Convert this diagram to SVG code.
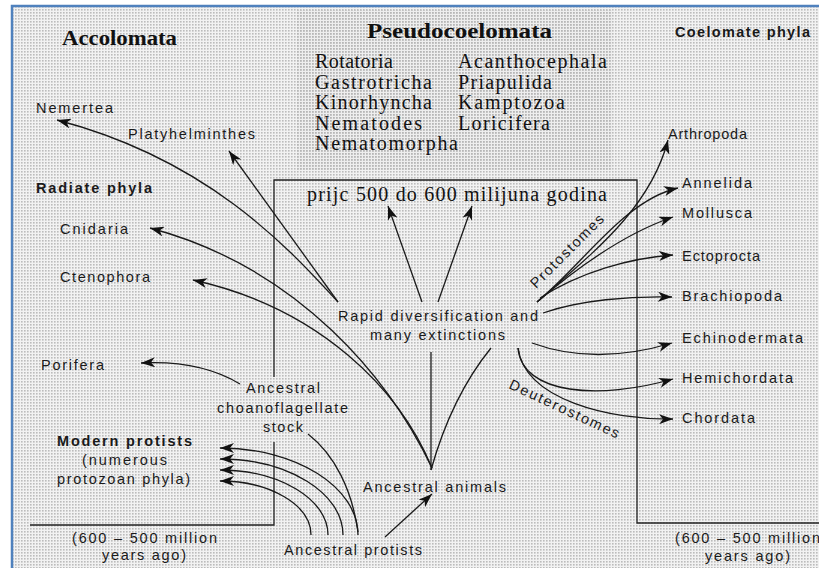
<svg xmlns="http://www.w3.org/2000/svg" width="819" height="568" viewBox="0 0 819 568">
<style>
.sans{font-family:"Liberation Sans",Arial,sans-serif;font-size:14.5px;fill:#1a1a1a}
.b{font-weight:bold}
.serif{font-family:"Liberation Serif","Times New Roman",serif;font-size:20px;fill:#111}
.hd{font-family:"Liberation Serif","Times New Roman",serif;font-size:20px;font-weight:bold;fill:#111}
.ln{fill:none;stroke:#1a1a1a;stroke-width:1.3}
.ar{fill:none;stroke:#1a1a1a;stroke-width:1.3;marker-end:url(#ah)}
.frame{fill:none;stroke:#222;stroke-width:1.3}
</style>
<defs>
<pattern id="ht" width="3" height="3" patternUnits="userSpaceOnUse">
<rect width="3" height="3" fill="#f2f2f2"/>
<rect width="1.6" height="1.6" fill="#bcbcbc"/>
</pattern>
<pattern id="ht2" width="3" height="3" patternUnits="userSpaceOnUse">
<rect width="3" height="3" fill="#eeeeee"/>
<rect width="1.8" height="1.8" fill="#b6b6b6"/>
</pattern>
<marker id="ah" viewBox="0 0 14 10" refX="14" refY="5" markerWidth="14" markerHeight="10" markerUnits="userSpaceOnUse" orient="auto">
<path d="M0,0 L14,5 L0,10 L4,5 Z" fill="#111"/>
</marker>
</defs>
<rect width="819" height="568" fill="#ffffff"/>
<rect x="12" y="6" width="820" height="580" fill="url(#ht)" stroke="#4f81bd" stroke-width="2.5"/>
<rect x="297" y="10" width="315" height="160" fill="url(#ht2)"/>

<g id="frames">
<path class="frame" d="M274,377 L274,180 L637,180 L637,523 L819,523"/>
<path class="frame" d="M274,442 L274,525 L30,525"/>
</g>

<g id="connectors">
<path class="ar" d="M338,302 C290,250 210,160 57,120"/>
<path class="ar" d="M338,302 L229,151"/>
<path class="ar" d="M422,302 L388,206"/>
<path class="ar" d="M438,302 L472,206"/>
<path class="ar" d="M432,468 C390,380 300,268 150,228"/>
<path class="ar" d="M432,468 C400,390 320,308 193,280"/>
<path class="ar" d="M240,384 Q200,360 141,363"/>
<path class="ln" d="M431,470 L431,352"/>
<path class="ln" d="M431,470 C445,420 465,380 491,348"/>
<path class="ar" d="M385,537 L432,494"/>
<path class="ar" d="M358,535 C358,487 296,448 220,448"/>
<path class="ar" d="M343,535 C343,493 288,459 220,459"/>
<path class="ar" d="M328,535 C328,499 279,470 220,470"/>
<path class="ar" d="M311,535 C311,505 270,481 220,481"/>
<path class="ln" d="M358,532 C352,490 335,455 308,434"/>
<path class="ar" d="M537,302 C590,255 650,210 668,140"/>
<path class="ar" d="M537,302 C585,262 625,200 678,188"/>
<path class="ar" d="M537,302 C572,272 620,235 673,217"/>
<path class="ar" d="M540,298 C580,272 630,258 673,255"/>
<path class="ar" d="M543,313 C580,300 630,296 672,297"/>
<path class="ar" d="M532,343 Q595,366 672,343"/>
<path class="ar" d="M518,348 C522,395 600,400 673,379"/>
<path class="ar" d="M518,348 C525,400 610,420 673,419"/>
</g>

<g id="accolomata">
<text class="hd" x="62" y="45" textLength="115" lengthAdjust="spacingAndGlyphs">Accolomata</text>
</g>
<g id="pseudocoelomata">
<text class="hd" x="367" y="38" textLength="185" lengthAdjust="spacingAndGlyphs">Pseudocoelomata</text>
<text class="serif" x="315" y="68" textLength="78">Rotatoria</text>
<text class="serif" x="315" y="88.5" textLength="117">Gastrotricha</text>
<text class="serif" x="315" y="109" textLength="117">Kinorhyncha</text>
<text class="serif" x="315" y="129.5" textLength="107">Nematodes</text>
<text class="serif" x="315" y="150" textLength="143">Nematomorpha</text>
<text class="serif" x="458" y="68" textLength="149">Acanthocephala</text>
<text class="serif" x="458" y="88.5" textLength="94">Priapulida</text>
<text class="serif" x="458" y="109" textLength="107">Kamptozoa</text>
<text class="serif" x="458" y="129.5" textLength="92">Loricifera</text>
</g>
<g id="coelomate">
<text class="sans b" x="675" y="37" textLength="135">Coelomate phyla</text>
</g>
<g id="period">
<text class="serif" x="307" y="201" font-size="21" textLength="300">prijc 500 do 600 milijuna godina</text>
</g>
<g id="nemertea"><text class="sans" x="36" y="113" textLength="77">Nemertea</text></g>
<g id="platyhelminthes"><text class="sans" x="128" y="139" textLength="127">Platyhelminthes</text></g>
<g id="radiate"><text class="sans b" x="36" y="193" textLength="116">Radiate phyla</text></g>
<g id="cnidaria"><text class="sans" x="60" y="234" textLength="68">Cnidaria</text></g>
<g id="ctenophora"><text class="sans" x="60" y="282" textLength="90">Ctenophora</text></g>
<g id="porifera"><text class="sans" x="41" y="370" textLength="63">Porifera</text></g>
<g id="choano">
<text class="sans" x="246" y="393" textLength="74">Ancestral</text>
<text class="sans" x="217" y="413" textLength="131">choanoflagellate</text>
<text class="sans" x="263" y="432" textLength="40">stock</text>
</g>
<g id="modern">
<text class="sans b" x="57" y="446" textLength="135">Modern protists</text>
<text class="sans" x="82" y="465" textLength="85">(numerous</text>
<text class="sans" x="57" y="484" textLength="133">protozoan phyla)</text>
</g>
<g id="time-left">
<text class="sans" x="72" y="543" textLength="145">(600 – 500 million</text>
<text class="sans" x="102" y="560" textLength="84">years ago)</text>
</g>
<g id="protists"><text class="sans" x="284" y="555" textLength="138">Ancestral protists</text></g>
<g id="animals"><text class="sans" x="363" y="492" textLength="143">Ancestral animals</text></g>
<g id="rapid">
<text class="sans" x="338" y="321" textLength="200">Rapid diversification and</text>
<text class="sans" x="370" y="340" textLength="135">many extinctions</text>
</g>
<g id="protostomes"><text class="sans" transform="translate(536,289) rotate(-45)" letter-spacing="1.6">Protostomes</text></g>
<g id="deuterostomes"><text class="sans" transform="translate(508,388) rotate(25)" letter-spacing="1.8">Deuterostomes</text></g>
<g id="arthropoda"><text class="sans" x="668" y="139" textLength="79">Arthropoda</text></g>
<g id="annelida"><text class="sans" x="682" y="188" textLength="70">Annelida</text></g>
<g id="mollusca"><text class="sans" x="682" y="218" textLength="70">Mollusca</text></g>
<g id="ectoprocta"><text class="sans" x="682" y="261" textLength="78">Ectoprocta</text></g>
<g id="brachiopoda"><text class="sans" x="682" y="301" textLength="100">Brachiopoda</text></g>
<g id="echinodermata"><text class="sans" x="682" y="343" textLength="121">Echinodermata</text></g>
<g id="hemichordata"><text class="sans" x="682" y="383" textLength="111">Hemichordata</text></g>
<g id="chordata"><text class="sans" x="682" y="423" textLength="73">Chordata</text></g>
<g id="time-right">
<text class="sans" x="675" y="543" textLength="145">(600 – 500 million</text>
<text class="sans" x="705" y="561" textLength="85">years ago)</text>
</g>
</svg>
